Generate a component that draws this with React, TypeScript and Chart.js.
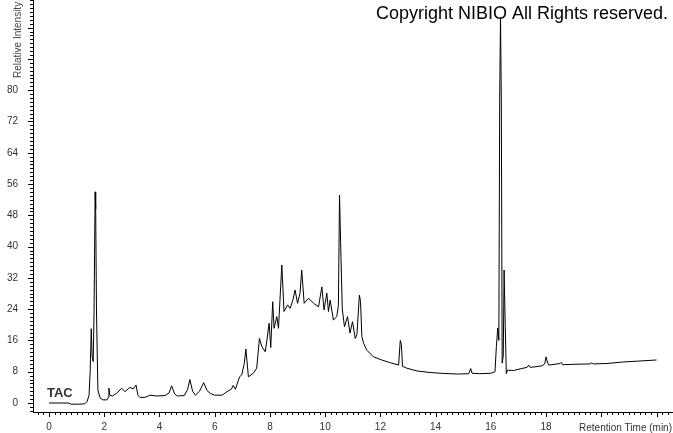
import React, { useEffect, useRef } from "react";
import { Chart, registerables } from "chart.js";

Chart.register(...registerables);

// Retention time (min)
const retentionTimes: number[] = [
  0.0, 0.4, 0.7, 0.8, 1.1, 1.3, 1.38, 1.45, 1.49, 1.53, 1.56, 1.6, 1.63, 1.67, 1.69, 1.72, 1.77, 1.85, 1.95,
  2.1, 2.15, 2.17, 2.2, 2.3, 2.45, 2.63, 2.75, 2.93, 3.05, 3.15, 3.22, 3.3, 3.5, 3.66, 3.9,
  4.2, 4.35, 4.44, 4.55, 4.65, 4.9, 5.02, 5.1, 5.2, 5.3, 5.45, 5.6, 5.72, 5.85,
  6.0, 6.27, 6.44, 6.6, 6.67, 6.75, 6.9, 6.98, 7.07, 7.13, 7.22, 7.4, 7.52, 7.62, 7.71, 7.83, 7.89, 7.97,
  8.03, 8.1, 8.15, 8.25, 8.31, 8.43, 8.51, 8.64, 8.73, 8.83, 8.91, 9.0, 9.09, 9.15, 9.24, 9.4, 9.58, 9.76, 9.88, 9.96,
  10.06, 10.12, 10.18, 10.3, 10.42, 10.48, 10.52, 10.56, 10.62, 10.7, 10.81, 10.9, 10.99,
  11.09, 11.15, 11.24, 11.28, 11.33, 11.39, 11.51, 11.75, 12.05, 12.36, 12.66, 12.72, 12.76, 12.8, 12.96,
  13.32, 13.8, 14.2, 14.8, 15.2, 15.27, 15.32, 15.6, 16.0, 16.15, 16.2, 16.25, 16.29, 16.32, 16.35, 16.38,
  16.41, 16.45, 16.48, 16.52, 16.56, 16.6, 16.82, 17.1, 17.31, 17.37, 17.43, 17.85, 17.95, 18.0, 18.06, 18.1,
  18.51, 18.55, 18.6, 19.0, 19.6, 19.66, 19.7, 20.2, 20.8, 21.3, 22.0,
];

// Relative intensity (TAC)
const tacIntensity: number[] = [
  0.0, 0.0, 0.0, -0.3, -0.3, -0.2, 0.4, 2.0, 8.0, 19.0, 12.0, 10.6, 23.0, 54.0, 49.6, 23.0, 3.3, 1.3, 0.8,
  0.8, 1.5, 3.8, 2.0, 1.8, 2.5, 3.8, 2.9, 4.0, 3.6, 4.6, 2.0, 1.4, 1.5, 2.0, 1.8,
  1.9, 2.6, 4.4, 2.3, 1.8, 1.9, 3.5, 6.0, 3.0, 2.0, 3.0, 5.2, 3.2, 2.4,
  2.0, 2.0, 2.9, 3.5, 4.5, 3.5, 6.7, 7.2, 10.1, 13.8, 6.7, 7.6, 8.9, 16.5, 14.4, 13.1, 16.1, 20.4,
  14.2, 25.9, 19.1, 22.1, 19.1, 35.3, 23.4, 25.1, 24.2, 26.3, 28.9, 25.5, 28.1, 34.0, 25.5, 26.8, 25.5, 24.6, 29.7, 23.8,
  28.1, 23.4, 26.3, 21.2, 22.1, 25.0, 53.2, 41.0, 24.0, 19.5, 22.1, 17.9, 20.8,
  16.5, 17.5, 27.6, 26.0, 17.0, 15.3, 13.5, 11.8, 11.0, 10.3, 9.7, 16.0, 15.0, 9.4, 8.9,
  8.2, 7.8, 7.6, 7.4, 7.5, 8.8, 7.6, 7.5, 7.6, 8.0, 14.4, 19.2, 16.0, 77.5, 98.7, 77.0,
  10.2, 12.0, 34.0, 20.0, 7.5, 8.4, 8.3, 8.8, 9.1, 9.7, 9.1, 9.5, 10.0, 11.8, 10.2, 9.7,
  10.1, 10.4, 9.8, 9.9, 10.0, 10.3, 10.0, 10.1, 10.5, 10.7, 11.0,
];

const xTickLabels: string[] = ["0", "2", "4", "6", "8", "10", "12", "14", "16", "18"];
const yTickLabels: string[] = ["0", "8", "16", "24", "32", "40", "48", "56", "64", "72", "80"];

const seriesName = "TAC";
const xAxisTitle = "Retention Time (min)";
const yAxisTitle = "Relative Intensity";
const copyrightText = "Copyright NIBIO All Rights reserved.";

const X_MIN = -0.58;
const X_MAX = 22.56;
const Y_MIN = -2.3;
const Y_MAX = 103.07;

const decorPlugin = {
  id: "decor",
  afterDraw(chart: any) {
    const { ctx, chartArea } = chart;
    const xs = chart.scales.x;
    const ys = chart.scales.y;
    ctx.save();
    ctx.strokeStyle = "#000";
    ctx.lineWidth = 1;
    ctx.beginPath();
    // x minor/major ticks
    const xStep = 0.2;
    for (let i = Math.ceil(xs.min / xStep); i * xStep <= xs.max + 1e-9; i++) {
      const px = Math.round(xs.getPixelForValue(i * xStep)) + 0.5;
      const major = i % 10 === 0;
      ctx.moveTo(px, chartArea.bottom);
      ctx.lineTo(px, chartArea.bottom + (major ? 5 : 3));
    }
    // y minor/major ticks
    const yStep = 1;
    for (let i = Math.ceil(ys.min / yStep); i * yStep <= ys.max + 1e-9; i++) {
      const py = Math.round(ys.getPixelForValue(i * yStep)) + 0.5;
      const major = i % 8 === 0;
      ctx.moveTo(chartArea.left, py);
      ctx.lineTo(chartArea.left - (major ? 5 : 3), py);
    }
    ctx.stroke();

    // Series label
    ctx.fillStyle = "#333";
    ctx.font = "bold 13px 'Liberation Sans', Arial, sans-serif";
    ctx.textAlign = "left";
    ctx.textBaseline = "alphabetic";
    ctx.fillText(seriesName, 47, 396.5);

    // X axis title
    ctx.font = "10px 'Liberation Sans', Arial, sans-serif";
    ctx.fillStyle = "#333";
    ctx.textAlign = "right";
    ctx.fillText(xAxisTitle, 672, 430.5);

    // Y axis title (rotated)
    ctx.save();
    ctx.translate(21, 78);
    ctx.rotate(-Math.PI / 2);
    ctx.textAlign = "left";
    ctx.fillStyle = "#444";
    ctx.fillText(yAxisTitle, 0, 0);
    ctx.restore();

    // Copyright
    ctx.font = "18px 'Liberation Sans', Arial, sans-serif";
    ctx.fillStyle = "#000";
    ctx.textAlign = "left";
    ctx.fillText(copyrightText, 376, 18.5);
    ctx.restore();
  },
};

export default function App() {
  const canvasRef = useRef<HTMLCanvasElement | null>(null);

  useEffect(() => {
    if (!canvasRef.current) return;
    const points = retentionTimes.map((t, i) => ({ x: t, y: tacIntensity[i] }));
    const tickFont = { family: "'Liberation Sans', Arial, sans-serif", size: 10 };
    const chart = new Chart(canvasRef.current, {
      type: "line",
      data: {
        datasets: [
          {
            label: seriesName,
            data: points,
            borderColor: "#000",
            borderWidth: 1,
            pointRadius: 0,
            tension: 0,
            fill: false,
          },
        ],
      },
      options: {
        responsive: false,
        animation: false,
        devicePixelRatio: 1,
        layout: { autoPadding: false, padding: { top: 0, right: 1, left: 0, bottom: 0 } },
        plugins: { legend: { display: false }, tooltip: { enabled: false } },
        scales: {
          x: {
            type: "linear",
            min: X_MIN,
            max: X_MAX,
            grid: { display: false, drawTicks: true, tickLength: 5 },
            border: { display: true, color: "#000", width: 1 },
            ticks: {
              stepSize: 2,
              includeBounds: false,
              autoSkip: false,
              maxRotation: 0,
              padding: 4,
              color: "#333",
              font: tickFont,
              callback: (v: any) => {
                const s = String(Math.round(Number(v) * 1000) / 1000);
                return xTickLabels.includes(s) ? s : null;
              },
            },
            afterFit: (s: any) => {
              s.height = 21;
              s.paddingLeft = 0;
              s.paddingRight = 0;
            },
          },
          y: {
            type: "linear",
            min: Y_MIN,
            max: Y_MAX,
            grid: { display: false, drawTicks: true, tickLength: 5 },
            border: { display: true, color: "#000", width: 1 },
            ticks: {
              stepSize: 8,
              includeBounds: false,
              autoSkip: false,
              padding: 10,
              color: "#333",
              font: tickFont,
              callback: (v: any) => {
                const s = String(Math.round(Number(v) * 1000) / 1000);
                return yTickLabels.includes(s) ? s : null;
              },
            },
            afterFit: (s: any) => {
              s.width = 33;
              s.paddingTop = 0;
              s.paddingBottom = 0;
            },
          },
        },
      },
      plugins: [decorPlugin],
    } as any);
    return () => chart.destroy();
  }, []);

  return (
    <div style={{ position: "fixed", left: 0, top: 0, width: 673, height: 433, background: "#fff" }}>
      <canvas ref={canvasRef} width={673} height={433} style={{ display: "block" }} />
    </div>
  );
}
